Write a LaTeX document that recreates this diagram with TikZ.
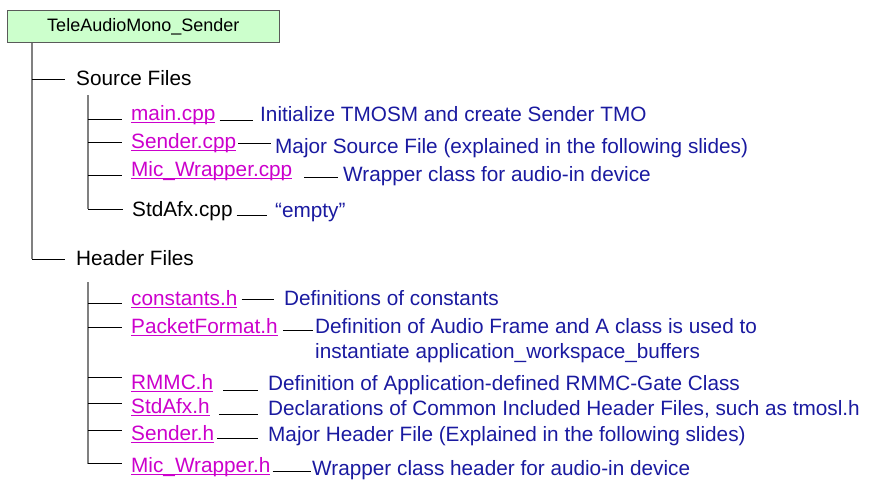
\documentclass[tikz,border=0pt]{standalone}
\usepackage{fontspec}
\setmainfont{Liberation Sans}
\definecolor{rootgreen}{RGB}{204,255,204}
\definecolor{rootedge}{RGB}{90,90,90}
\definecolor{linkpink}{RGB}{204,0,204}
\definecolor{descblue}{RGB}{26,26,160}
\definecolor{barline}{RGB}{128,128,128}
% underlined file name, line close to the baseline
\newcommand\lnk[1]{\setbox0\hbox{#1}\rlap{\rule[-2.6pt]{\wd0}{1.1pt}}\box0}

\begin{document}
\begin{tikzpicture}[x=1pt, y=-1pt,
	txt/.style={anchor=base west, inner xsep=2pt, inner ysep=0pt, font=\fontsize{20.75}{25}\selectfont},
	folder/.style={txt, text=black},
	file/.style={txt, text=linkpink},
	descr/.style={txt, text=descblue, align=left},
	bar/.style={draw=barline, line width=1.5pt},
	branch/.style={draw=black, line width=1pt},
	conn/.style={draw=black, line width=1pt}]
	\useasboundingbox (0,0) rectangle (870,480);

	% Project box and trunk:
	\node[draw=rootedge, line width=1.2pt, fill=rootgreen, minimum width=272pt, minimum height=32pt, inner sep=0pt, font=\fontsize{18}{22}\selectfont](root) at (143.3, 26.7){TeleAudioMono\_Sender};
	\coordinate (trunk) at (32, 0);
	\node[folder](src) at (74, 85){Source Files};
	\node[folder](hdr) at (74, 265){Header Files};
	\draw[bar] (root.south -| trunk) -- ([yshift=-1.5pt]hdr.west -| trunk);
	\draw[branch] ([yshift=-1.5pt]src.west -| trunk) -- ([xshift=-9pt, yshift=-1.5pt]src.west);
	\draw[branch] ([yshift=-1.5pt]hdr.west -| trunk) -- ([xshift=-9pt, yshift=-1.5pt]hdr.west);

	% Source files:
	\node[file](main) at (129, 120){\lnk{main.cpp}};
	\node[file](sender) at (129, 148){\lnk{Sender.cpp}};
	\node[file](mic) at (129, 176){\lnk{Mic\_Wrapper.cpp}};
	\node[folder](stdc) at (130, 216){StdAfx.cpp};
	\node[descr](mainD) at (258, 121){Initialize TMOSM and create Sender TMO};
	\node[descr](senderD) at (273, 153){Major Source File (explained in the following slides)};
	\node[descr](micD) at (341, 181){Wrapper class for audio-in device};
	\node[descr](stdcD) at (273, 217){“empty”};
	\coordinate (srcbar) at (88, 95);
	\draw[bar] (srcbar) -- ([yshift=7pt]stdc.base west -| srcbar);

	% Header files:
	\node[file](cons) at (129, 305){\lnk{constants.h}};
	\node[file](pack) at (129, 333){\lnk{PacketFormat.h}};
	\node[file](rmmc) at (129, 389){\lnk{RMMC.h}};
	\node[file](stdh) at (129, 413){\lnk{StdAfx.h}};
	\node[file](sndh) at (129, 440){\lnk{Sender.h}};
	\node[file](mich) at (129, 472){\lnk{Mic\_Wrapper.h}};
	\node[descr](consD) at (282, 305){Definitions of constants};
	% two lines: the base anchor sits on the second one
	\node[descr](packD) at (313, 358){Definition of Audio Frame and A class is used to\\instantiate application\_workspace\_buffers};
	\node[descr](rmmcD) at (266, 390){Definition of Application-defined RMMC-Gate Class};
	\node[descr](stdhD) at (266, 415){Declarations of Common Included Header Files, such as tmosl.h};
	\node[descr](sndhD) at (266, 441){Major Header File (Explained in the following slides)};
	\node[descr](michD) at (310, 475){Wrapper class header for audio-in device};
	\coordinate (hdrbar) at (88, 282);
	\draw[bar] (hdrbar) -- ([yshift=8.5pt]mich.base west -| hdrbar);

	% Branches from the bars:
	\foreach \f/\d in {main/1, sender/6, mic/1, stdc/7}
		\draw[branch] ([yshift=\d pt]\f.base west -| srcbar) -- ([xshift=-7pt, yshift=\d pt]\f.base west);
	\foreach \f/\d in {cons/2, pack/5.5, rmmc/11.5, stdh/10, sndh/10, mich/8.5}
		\draw[branch] ([yshift=\d pt]\f.base west -| hdrbar) -- ([xshift=-7pt, yshift=\d pt]\f.base west);

	% Lines from file to description:
	\foreach \f/\g/\d/\a/\b in {main/mainD/0/2/5, sender/senderD/5/0/2, mic/micD/-1/10/3, stdc/stdcD/1/2/6,
		cons/consD/6/2/8, pack/packD/3/3/0, rmmc/rmmcD/-1/8/8, stdh/stdhD/-1/7/8, sndh/sndhD/2/1/8, mich/michD/1/0/-1}
		\draw[conn, shorten <=\a pt, shorten >=\b pt] ([yshift=\d pt]\f.base east) -- ([yshift=\d pt]\f.base east -| \g.base west);
\end{tikzpicture}
\end{document}
